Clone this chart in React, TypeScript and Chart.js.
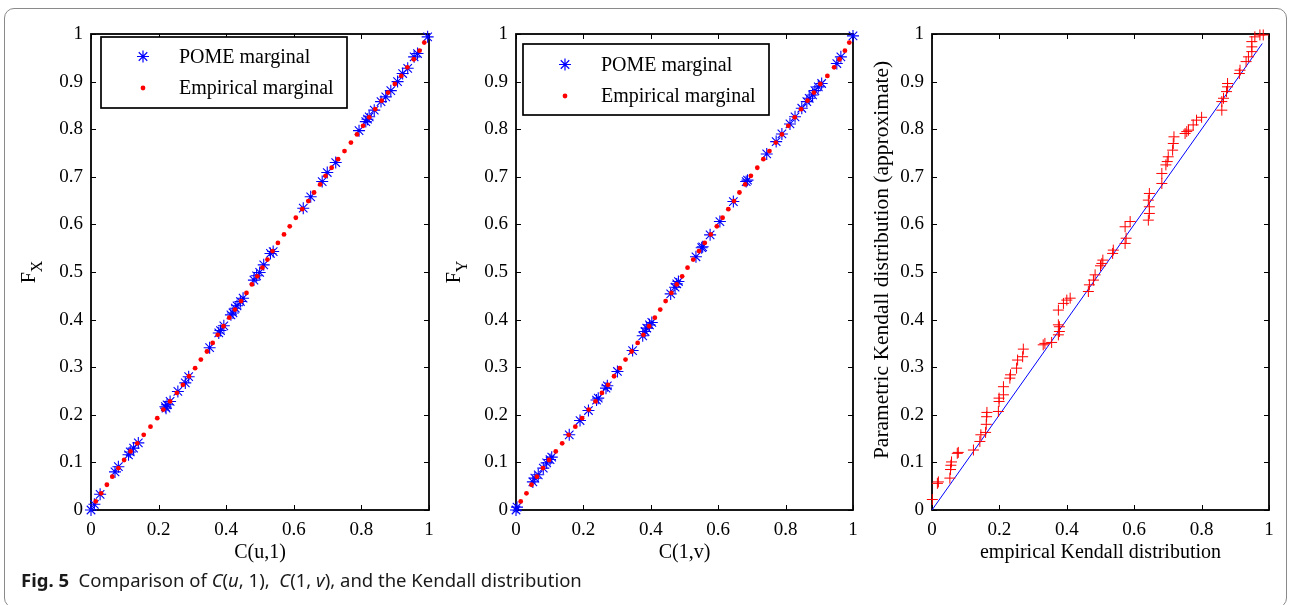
import React, { useEffect, useRef } from "react";
import { Chart, registerables } from "chart.js";

Chart.register(...registerables);

const FONT = '"Liberation Serif", "Times New Roman", serif';

// ---- Tick labels ----
const Y_TICKS = [0, 0.1, 0.2, 0.3, 0.4, 0.5, 0.6, 0.7, 0.8, 0.9, 1];
const X_TICKS = [0, 0.2, 0.4, 0.6, 0.8, 1];

// ---- Panel 1: C(u,1) vs F_X ----
const POME1_X = [0, 0.01, 0.027, 0.071, 0.081, 0.111, 0.116, 0.126, 0.14, 0.22, 0.222, 0.225, 0.234, 0.257, 0.279, 0.289, 0.351, 0.378, 0.383, 0.393, 0.414, 0.42, 0.427, 0.432, 0.442, 0.45, 0.482, 0.49, 0.499, 0.511, 0.531, 0.539, 0.628, 0.65, 0.684, 0.699, 0.724, 0.793, 0.813, 0.818, 0.823, 0.838, 0.858, 0.872, 0.887, 0.907, 0.922, 0.937, 0.956, 0.966, 0.996];
const POME1_Y = [0, 0.012, 0.033, 0.08, 0.091, 0.116, 0.122, 0.13, 0.141, 0.217, 0.214, 0.221, 0.228, 0.249, 0.267, 0.28, 0.341, 0.372, 0.377, 0.387, 0.41, 0.414, 0.424, 0.429, 0.438, 0.445, 0.483, 0.492, 0.499, 0.515, 0.539, 0.543, 0.634, 0.658, 0.69, 0.709, 0.73, 0.797, 0.816, 0.821, 0.826, 0.84, 0.858, 0.868, 0.881, 0.9, 0.917, 0.928, 0.952, 0.959, 0.994];

const EMP_Y = [0.018, 0.035, 0.053, 0.07, 0.088, 0.105, 0.123, 0.14, 0.158, 0.175, 0.193, 0.211, 0.228, 0.246, 0.263, 0.281, 0.298, 0.316, 0.333, 0.351, 0.368, 0.386, 0.404, 0.421, 0.439, 0.456, 0.474, 0.491, 0.509, 0.526, 0.544, 0.561, 0.579, 0.596, 0.614, 0.632, 0.649, 0.667, 0.684, 0.702, 0.719, 0.737, 0.754, 0.772, 0.789, 0.807, 0.825, 0.842, 0.86, 0.877, 0.895, 0.912, 0.93, 0.947, 0.965, 0.982];
const EMP1_X = [0.014, 0.03, 0.047, 0.063, 0.081, 0.098, 0.117, 0.137, 0.156, 0.176, 0.196, 0.214, 0.234, 0.254, 0.272, 0.29, 0.308, 0.325, 0.343, 0.36, 0.375, 0.392, 0.409, 0.426, 0.444, 0.46, 0.476, 0.492, 0.507, 0.522, 0.537, 0.553, 0.571, 0.588, 0.606, 0.625, 0.643, 0.66, 0.678, 0.694, 0.712, 0.731, 0.75, 0.769, 0.787, 0.805, 0.823, 0.841, 0.86, 0.879, 0.899, 0.918, 0.936, 0.955, 0.972, 0.986];

// ---- Panel 2: C(1,v) vs F_Y ----
const POME2_X = [0, 0.003, 0.05, 0.056, 0.066, 0.081, 0.091, 0.101, 0.106, 0.158, 0.19, 0.215, 0.239, 0.244, 0.267, 0.271, 0.301, 0.346, 0.376, 0.383, 0.388, 0.396, 0.403, 0.459, 0.472, 0.477, 0.482, 0.534, 0.551, 0.554, 0.576, 0.605, 0.645, 0.683, 0.687, 0.744, 0.772, 0.789, 0.813, 0.828, 0.848, 0.863, 0.87, 0.88, 0.887, 0.897, 0.907, 0.952, 0.964, 1.0];
const POME2_Y = [0, 0.006, 0.059, 0.067, 0.074, 0.088, 0.099, 0.106, 0.111, 0.158, 0.188, 0.209, 0.231, 0.235, 0.256, 0.261, 0.291, 0.335, 0.366, 0.375, 0.382, 0.389, 0.394, 0.454, 0.468, 0.475, 0.48, 0.532, 0.551, 0.553, 0.578, 0.606, 0.648, 0.69, 0.693, 0.748, 0.774, 0.79, 0.811, 0.826, 0.844, 0.858, 0.865, 0.872, 0.881, 0.889, 0.896, 0.938, 0.952, 0.996];
const EMP2_X = [0.014, 0.031, 0.046, 0.062, 0.08, 0.098, 0.118, 0.137, 0.156, 0.176, 0.196, 0.216, 0.236, 0.255, 0.273, 0.291, 0.308, 0.325, 0.343, 0.361, 0.378, 0.395, 0.412, 0.428, 0.444, 0.461, 0.477, 0.493, 0.509, 0.526, 0.543, 0.56, 0.578, 0.596, 0.613, 0.63, 0.647, 0.663, 0.68, 0.697, 0.716, 0.734, 0.752, 0.771, 0.789, 0.808, 0.827, 0.846, 0.865, 0.884, 0.903, 0.924, 0.944, 0.96, 0.976, 0.989];

// ---- Panel 3: Kendall distribution ----
const KEN_X = [0.001, 0.016, 0.019, 0.053, 0.055, 0.056, 0.058, 0.075, 0.078, 0.123, 0.142, 0.145, 0.159, 0.161, 0.162, 0.163, 0.197, 0.199, 0.199, 0.212, 0.212, 0.231, 0.233, 0.251, 0.254, 0.269, 0.271, 0.33, 0.335, 0.355, 0.375, 0.378, 0.378, 0.375, 0.375, 0.39, 0.4, 0.41, 0.464, 0.467, 0.479, 0.484, 0.5, 0.504, 0.507, 0.536, 0.538, 0.573, 0.576, 0.573, 0.588, 0.642, 0.645, 0.645, 0.642, 0.645, 0.682, 0.682, 0.694, 0.698, 0.701, 0.714, 0.716, 0.718, 0.751, 0.756, 0.761, 0.775, 0.785, 0.8, 0.86, 0.86, 0.865, 0.874, 0.877, 0.877, 0.912, 0.914, 0.932, 0.939, 0.949, 0.949, 0.949, 0.958, 0.973, 0.983];
const KEN_Y = [0.022, 0.056, 0.059, 0.067, 0.085, 0.094, 0.101, 0.119, 0.121, 0.126, 0.144, 0.158, 0.163, 0.18, 0.196, 0.205, 0.207, 0.228, 0.235, 0.242, 0.259, 0.277, 0.284, 0.298, 0.315, 0.322, 0.338, 0.347, 0.35, 0.352, 0.368, 0.375, 0.385, 0.389, 0.42, 0.434, 0.441, 0.445, 0.459, 0.473, 0.483, 0.494, 0.513, 0.518, 0.525, 0.539, 0.546, 0.56, 0.571, 0.595, 0.606, 0.609, 0.623, 0.637, 0.651, 0.665, 0.686, 0.707, 0.725, 0.732, 0.742, 0.756, 0.77, 0.784, 0.791, 0.795, 0.798, 0.809, 0.819, 0.825, 0.84, 0.858, 0.865, 0.879, 0.889, 0.896, 0.917, 0.924, 0.942, 0.952, 0.963, 0.973, 0.984, 0.994, 0.998, 0.998];
const LINE_X = [0, 0.98];
const LINE_Y = [0, 0.98];

const LEGEND_LABELS = ["POME marginal", "Empirical marginal"];

const W = 1290;
const H = 605;

const zip = (xs: number[], ys: number[]) => xs.map((x, i) => ({ x, y: ys[i] }));
const fmt = (v: number) => (v === 0 ? "0" : v === 1 ? "1" : String(v));

type PanelCfg = {
  left: number;
  right: number;
  top: number;
  bottom: number;
  yTitle: string;
  ySub?: string;
  yTitleX: number;
  yTitleY: number;
  yTitleSize: number;
  xTitle: string;
  legend?: { x: number; y: number; w: number; h: number; dy: number };
  datasets: any[];
};

function drawStar(ctx: CanvasRenderingContext2D, x: number, y: number, r: number) {
  ctx.beginPath();
  ctx.moveTo(x - r, y);
  ctx.lineTo(x + r, y);
  ctx.moveTo(x, y - r);
  ctx.lineTo(x, y + r);
  const d = r * Math.SQRT1_2;
  ctx.moveTo(x - d, y - d);
  ctx.lineTo(x + d, y + d);
  ctx.moveTo(x - d, y + d);
  ctx.lineTo(x + d, y - d);
  ctx.stroke();
}

function makePlugin(p: PanelCfg) {
  return {
    id: "frame",
    beforeDatasetsDraw(chart: any) {
      const ctx = chart.ctx as CanvasRenderingContext2D;
      const a = chart.chartArea;
      const xs = chart.scales.x;
      const ys = chart.scales.y;
      ctx.save();
      ctx.strokeStyle = "#000";
      ctx.lineWidth = 1;
      const tl = 5;
      ctx.beginPath();
      for (const v of X_TICKS) {
        const px = Math.round(xs.getPixelForValue(v)) + 0.5;
        ctx.moveTo(px, a.bottom);
        ctx.lineTo(px, a.bottom - tl);
        ctx.moveTo(px, a.top);
        ctx.lineTo(px, a.top + tl);
      }
      for (const v of Y_TICKS) {
        const py = Math.round(ys.getPixelForValue(v)) + 0.5;
        ctx.moveTo(a.left, py);
        ctx.lineTo(a.left + tl, py);
        ctx.moveTo(a.right, py);
        ctx.lineTo(a.right - tl, py);
      }
      ctx.stroke();
      ctx.lineWidth = 1.8;
      ctx.strokeRect(a.left, a.top, a.right - a.left, a.bottom - a.top);
      ctx.restore();
    },
    afterDraw(chart: any) {
      const ctx = chart.ctx as CanvasRenderingContext2D;
      const a = chart.chartArea;
      ctx.save();
      ctx.fillStyle = "#000";
      // x title
      ctx.font = `20px ${FONT}`;
      ctx.textAlign = "center";
      ctx.textBaseline = "alphabetic";
      ctx.fillText(p.xTitle, (a.left + a.right) / 2, 558);
      // y title (rotated)
      ctx.save();
      ctx.translate(p.yTitleX, p.yTitleY);
      ctx.rotate(-Math.PI / 2);
      ctx.textAlign = "left";
      ctx.font = `${p.yTitleSize}px ${FONT}`;
      const wMain = ctx.measureText(p.yTitle).width;
      let wSub = 0;
      if (p.ySub) {
        ctx.font = `16px ${FONT}`;
        wSub = ctx.measureText(p.ySub).width;
      }
      const start = -(wMain + wSub) / 2;
      ctx.font = `${p.yTitleSize}px ${FONT}`;
      ctx.fillText(p.yTitle, start, 0);
      if (p.ySub) {
        ctx.font = `16px ${FONT}`;
        ctx.fillText(p.ySub, start + wMain, 7);
      }
      ctx.restore();
      // legend
      if (p.legend) {
        const L = p.legend;
        ctx.fillStyle = "#fff";
        ctx.fillRect(L.x, L.y, L.w, L.h);
        ctx.strokeStyle = "#000";
        ctx.lineWidth = 1.7;
        ctx.strokeRect(L.x, L.y, L.w, L.h);
        const mx = L.x + 42;
        const y1 = L.y + 19.5 + L.dy;
        const y2 = L.y + 51 + L.dy;
        ctx.strokeStyle = "#0000ff";
        ctx.lineWidth = 1.2;
        drawStar(ctx, mx, y1, 6);
        ctx.fillStyle = "#ff0000";
        ctx.beginPath();
        ctx.arc(mx, y2, 2.4, 0, Math.PI * 2);
        ctx.fill();
        ctx.fillStyle = "#000";
        ctx.font = `20px ${FONT}`;
        ctx.textAlign = "left";
        ctx.textBaseline = "middle";
        ctx.fillText(LEGEND_LABELS[0], L.x + 78, y1 + 1);
        ctx.fillText(LEGEND_LABELS[1], L.x + 78, y2 + 1);
      }
      ctx.restore();
    },
  };
}

function makeConfig(p: PanelCfg): any {
  const tickFont = { family: FONT, size: 19 };
  return {
    type: "scatter",
    data: { datasets: p.datasets },
    options: {
      animation: false,
      responsive: false,
      maintainAspectRatio: false,
      events: [],
      layout: {
        padding: { left: p.left - 91, right: W - p.right, top: p.top, bottom: 0 },
      },
      plugins: { legend: { display: false }, tooltip: { enabled: false } },
      scales: {
        x: {
          type: "linear",
          min: 0,
          max: 1,
          afterBuildTicks: (s: any) => {
            s.ticks = X_TICKS.map((v) => ({ value: v }));
          },
          afterFit: (s: any) => {
            s.height = H - p.bottom;
          },
          ticks: { callback: fmt, font: tickFont, color: "#000", padding: 9, maxRotation: 0, autoSkip: false },
          grid: { display: false, drawTicks: false },
          border: { display: false },
        },
        y: {
          type: "linear",
          min: 0,
          max: 1,
          afterBuildTicks: (s: any) => {
            s.ticks = Y_TICKS.map((v) => ({ value: v }));
          },
          afterFit: (s: any) => {
            s.width = 91;
          },
          ticks: { callback: fmt, font: tickFont, color: "#000", padding: 8, autoSkip: false },
          grid: { display: false, drawTicks: false },
          border: { display: false },
        },
      },
    },
    plugins: [makePlugin(p)],
  };
}

const pomeDs = (xs: number[], ys: number[]) => ({
  label: LEGEND_LABELS[0],
  data: zip(xs, ys),
  pointStyle: "star",
  pointRadius: 6,
  borderColor: "#0000ff",
  backgroundColor: "#0000ff",
  pointBorderWidth: 1.1,
  clip: false,
  order: 1,
});
const empDs = (xs: number[], ys: number[]) => ({
  label: LEGEND_LABELS[1],
  data: zip(xs, ys),
  pointStyle: "circle",
  pointRadius: 2.4,
  pointBorderWidth: 0,
  borderColor: "#ff0000",
  backgroundColor: "#ff0000",
  clip: false,
  order: 0,
});

const PANELS: PanelCfg[] = [
  {
    left: 91,
    right: 429,
    top: 34,
    bottom: 510,
    yTitle: "F",
    ySub: "X",
    yTitleX: 35,
    yTitleY: 272,
    yTitleSize: 20,
    xTitle: "C(u,1)",
    legend: { x: 101, y: 37, w: 246, h: 71, dy: 0 },
    datasets: [empDs(EMP1_X, EMP_Y), pomeDs(POME1_X, POME1_Y)],
  },
  {
    left: 516,
    right: 853,
    top: 34,
    bottom: 510,
    yTitle: "F",
    ySub: "Y",
    yTitleX: 460,
    yTitleY: 272,
    yTitleSize: 20,
    xTitle: "C(1,v)",
    legend: { x: 523, y: 44, w: 246, h: 71, dy: 1 },
    datasets: [empDs(EMP2_X, EMP_Y), pomeDs(POME2_X, POME2_Y)],
  },
  {
    left: 932,
    right: 1269,
    top: 34,
    bottom: 510,
    yTitle: "Parametric Kendall distribution (approximate)",
    yTitleX: 888,
    yTitleY: 260,
    yTitleSize: 21.5,
    xTitle: "empirical Kendall distribution",
    datasets: [
      {
        label: "Kendall",
        data: zip(KEN_X, KEN_Y),
        pointStyle: "cross",
        pointRadius: 5.5,
        pointBorderWidth: 1,
        borderColor: "#ff0000",
        backgroundColor: "#ff0000",
        pointBorderColor: "#ff0000",
        clip: false,
        order: 0,
      },
      {
        type: "line",
        label: "fit",
        data: zip(LINE_X, LINE_Y),
        showLine: true,
        pointRadius: 0,
        borderColor: "#0000ff",
        borderWidth: 1,
        fill: false,
        order: 1,
      },
    ],
  },
];

function Panel({ cfg }: { cfg: PanelCfg }) {
  const ref = useRef<HTMLCanvasElement>(null);
  useEffect(() => {
    if (!ref.current) return;
    const chart = new Chart(ref.current, makeConfig(cfg));
    return () => chart.destroy();
  }, [cfg]);
  return (
    <canvas
      ref={ref}
      width={W}
      height={H}
      style={{ position: "absolute", left: 0, top: 0, width: W, height: H }}
    />
  );
}

export default function App() {
  return (
    <div style={{ position: "fixed", left: 0, top: 0, width: W, height: H, background: "#fff", overflow: "hidden" }}>
      <div
        style={{
          position: "absolute",
          left: 4,
          top: 8,
          width: 1283,
          height: 600,
          border: "1px solid #8a8a8a",
          borderRadius: 10,
          boxSizing: "border-box",
        }}
      />
      {PANELS.map((p, i) => (
        <Panel key={i} cfg={p} />
      ))}
      <div
        style={{
          position: "absolute",
          left: 21,
          top: 569,
          font: '18.5px "Noto Sans", sans-serif',
          lineHeight: "22px",
          whiteSpace: "nowrap",
          color: "#1a1a1a",
        }}
      >
        <b>Fig. 5</b>&nbsp; Comparison of <i>C</i>(<i>u</i>, 1), &nbsp;<i>C</i>(1, <i>v</i>), and the Kendall distribution
      </div>
    </div>
  );
}
